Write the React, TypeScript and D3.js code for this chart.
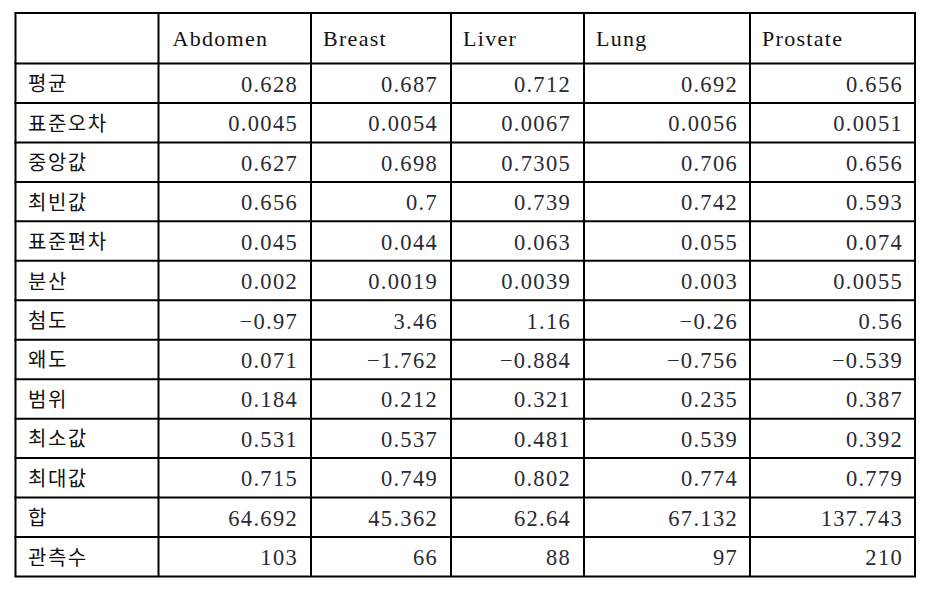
import React from "react";
import * as d3 from "d3";

const columns = ["Abdomen", "Breast", "Liver", "Lung", "Prostate"];
const rowLabels = ["평균", "표준오차", "중앙값", "최빈값", "표준편차", "분산", "첨도", "왜도", "범위", "최소값", "최대값", "합", "관측수"];
const abdomen = [0.628, 0.0045, 0.627, 0.656, 0.045, 0.002, -0.97, 0.071, 0.184, 0.531, 0.715, 64.692, 103];
const breast = [0.687, 0.0054, 0.698, 0.7, 0.044, 0.0019, 3.46, -1.762, 0.212, 0.537, 0.749, 45.362, 66];
const liver = [0.712, 0.0067, 0.7305, 0.739, 0.063, 0.0039, 1.16, -0.884, 0.321, 0.481, 0.802, 62.64, 88];
const lung = [0.692, 0.0056, 0.706, 0.742, 0.055, 0.003, -0.26, -0.756, 0.235, 0.539, 0.774, 67.132, 97];
const prostate = [0.656, 0.0051, 0.656, 0.593, 0.074, 0.0055, 0.56, -0.539, 0.387, 0.392, 0.779, 137.743, 210];
const series = [abdomen, breast, liver, lung, prostate];

const colEdges = [15.5, 158.5, 311, 451, 584, 750, 915];
const top = 13;
const headerBottom = 63.5;
const bottom = 576.5;
const font = "'Liberation Serif', 'Noto Sans CJK KR', serif";

const fmt = (v: number) => String(v).replace("-", "−");

export default function App() {
  const y = d3.scaleBand<number>().domain(d3.range(rowLabels.length)).range([headerBottom, bottom]);
  const hLines = [top, headerBottom, ...d3.range(1, rowLabels.length).map((i) => y(i) as number), bottom];
  return (
    <svg width={931} height={591} style={{ position: "absolute", left: 0, top: 0, background: "#fff" }}>
      <g fontFamily={font} fill="#1a1a1a">
        {columns.map((c, j) => (
          <text key={c} x={colEdges[j + 1] + (j === 0 ? 14 : 12)} y={(top + headerBottom) / 2 + 8} fontSize={22} letterSpacing={1.3} fill="#111">
            {c}
          </text>
        ))}
        {rowLabels.map((r, i) => (
          <text key={r} x={28} y={(y(i) as number) + y.bandwidth() / 2 + 8} fontSize={20} letterSpacing={1.5} fill="#111">
            {r}
          </text>
        ))}
        {series.map((s, j) =>
          s.map((v, i) => (
            <text
              key={j + "-" + i}
              x={colEdges[j + 2] - (j >= 3 ? 12 : 13)}
              y={(y(i) as number) + y.bandwidth() / 2 + 8.5}
              fontSize={22.5}
              letterSpacing={1.3}
              textAnchor="end"
              fill="#2a2a35"
            >
              {fmt(v)}
            </text>
          ))
        )}
      </g>
      <g stroke="#000" strokeWidth={2}>
        {hLines.map((yy, i) => (
          <line key={"h" + i} x1={colEdges[0] - 1} x2={colEdges[colEdges.length - 1] + 1} y1={yy} y2={yy} />
        ))}
        {colEdges.map((xx, i) => (
          <line key={"v" + i} x1={xx} x2={xx} y1={top} y2={bottom} />
        ))}
      </g>
    </svg>
  );
}
